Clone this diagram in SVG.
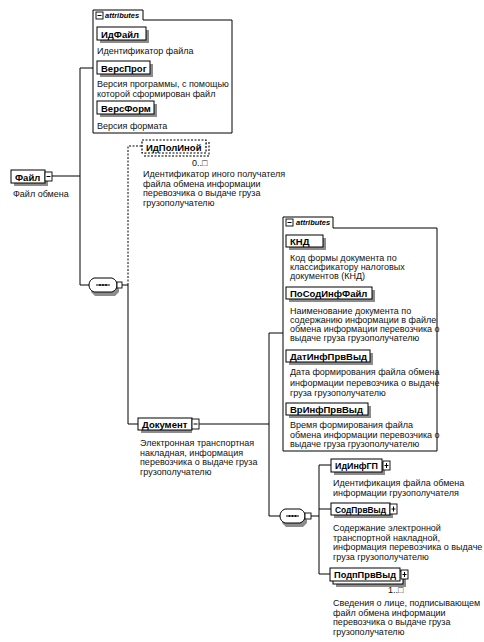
<svg xmlns="http://www.w3.org/2000/svg" width="484" height="642" viewBox="0 0 484 642">
<defs>
<style>
.bg{fill:#fff}
.c{fill:none;stroke:#000;stroke-width:1}
.dot{fill:none;stroke:#000;stroke-width:1;stroke-dasharray:2,1.5}
.box{fill:#fff;stroke:#000;stroke-width:1}
.sh{fill:#8c8c8c}
.dbox{fill:#fff;stroke:#000;stroke-width:1.2;stroke-dasharray:2,1.5}
.dsh{fill:none;stroke:#777;stroke-width:2;stroke-dasharray:2,1.5}
.ab{fill:#fff;stroke:#000;stroke-width:1}
.lbl{font-family:"Liberation Sans",Arial,sans-serif;font-size:9.5px;font-weight:bold;fill:#000}
.d{font-family:"Liberation Sans",Arial,sans-serif;font-size:9px;fill:#111}
.at{font-family:"Liberation Sans",Arial,sans-serif;font-size:7.5px;font-weight:bold;font-style:italic;fill:#000}
.ic{fill:#fff;stroke:#000;stroke-width:0.9}
</style>
</defs>
<rect class="bg" x="0" y="0" width="484" height="642"/>

<g id="connectors">
<path class="c" d="M52,176 H80 M80,68 V285 M80,68 H93 M80,285 H89"/>
<path class="c" d="M122,285 H128 V424 H138"/>
<path class="dot" d="M128,285 V146 H142"/>
<path class="c" d="M199,424 H269 M269,333 V516 M269,333 H283 M269,516 H280"/>
<path class="c" d="M311,516 H319 M319,465 V574 M319,465 H331 M319,509 H331 M319,574 H330"/>
</g>

<g id="attributes1">
<path class="ab" d="M93,133 V10 H143 V20 H232 V133 Z"/>
<rect class="ic" x="96" y="12" width="7" height="7"/>
<path class="c" d="M97.5,15.5 H101.5"/>
<text class="at" x="105" y="18">attributes</text>
</g>

<g id="ИдФайл">
<rect class="sh" x="100" y="30" width="49" height="13"/>
<rect class="box" x="97" y="27" width="49" height="13"/>
<text class="lbl" x="101" y="37.5">ИдФайл</text>
<text class="d" x="97" y="54">Идентификатор файла</text>
</g>

<g id="ВерсПрог">
<rect class="sh" x="100" y="64" width="53" height="13"/>
<rect class="box" x="97" y="61" width="53" height="13"/>
<text class="lbl" x="101" y="71.5">ВерсПрог</text>
<text class="d" x="97" y="87">Версия программы, с помощью</text>
<text class="d" x="97" y="97">которой сформирован файл</text>
</g>

<g id="ВерсФорм">
<rect class="sh" x="100" y="104" width="57" height="13"/>
<rect class="box" x="97" y="101" width="57" height="13"/>
<text class="lbl" x="101" y="111.5">ВерсФорм</text>
<text class="d" x="97" y="129">Версия формата</text>
</g>

<g id="Файл">
<rect class="sh" x="14" y="173" width="34" height="13"/>
<rect class="box" x="11" y="170" width="34" height="13"/>
<text class="lbl" x="15" y="180.5">Файл</text>
<rect class="ic" x="45" y="172" width="7" height="9"/>
<path class="c" d="M46.5,176.5 H50.5"/>
<text class="d" x="13" y="197">Файл обмена</text>
</g>

<g id="ИдПолИной">
<rect class="dsh" x="145" y="143" width="64" height="13"/>
<rect class="dbox" x="142" y="140" width="64" height="13"/>
<text class="lbl" x="146" y="150.5">ИдПолИной</text>
<text class="d" x="192" y="166" font-size="8">0..□</text>
<text class="d" x="143" y="177">Идентификатор иного получателя</text>
<text class="d" x="143" y="186.5">файла обмена информации</text>
<text class="d" x="143" y="196">перевозчика о выдаче груза</text>
<text class="d" x="143" y="205.5">грузополучателю</text>
</g>

<g id="seq1">
<path class="sh" d="M93,283 H113 L119,289 V292 L115,296 H95 L91,292 Z"/>
<path class="box" d="M94,278 H112 Q117,280 117,285 Q117,290 112,292 H94 Q89,290 89,285 Q89,280 94,278 Z"/>
<path class="c" d="M96,285 H110"/>
<circle cx="100" cy="285" r="0.9"/><circle cx="103" cy="285" r="0.9"/><circle cx="106" cy="285" r="0.9"/>
<rect class="ic" x="117" y="282" width="5" height="6"/>
</g>

<g id="Документ">
<rect class="sh" x="141" y="421" width="51" height="12"/>
<rect class="box" x="138" y="418" width="54" height="12"/>
<text class="lbl" x="142" y="427.5">Документ</text>
<rect class="ic" x="192" y="419" width="7" height="10"/>
<path class="c" d="M193.5,424 H197.5"/>
<text class="d" x="140" y="446">Электронная транспортная</text>
<text class="d" x="140" y="455.5">накладная, информация</text>
<text class="d" x="140" y="465">перевозчика о выдаче груза</text>
<text class="d" x="140" y="474.5">грузополучателю</text>
</g>

<g id="attributes2">
<path class="ab" d="M283,451 V217 H333 V228 H437 V451 Z"/>
<rect class="ic" x="286" y="219" width="7" height="7"/>
<path class="c" d="M287.5,222.5 H291.5"/>
<text class="at" x="296" y="225">attributes</text>
</g>

<g id="КНД">
<rect class="sh" x="289" y="238" width="37" height="12"/>
<rect class="box" x="286" y="235" width="37" height="12"/>
<text class="lbl" x="290" y="244.5">КНД</text>
<text class="d" x="290" y="261">Код формы документа по</text>
<text class="d" x="290" y="270">классификатору налоговых</text>
<text class="d" x="290" y="279">документов (КНД)</text>
</g>

<g id="ПоСодИнфФайл">
<rect class="sh" x="289" y="290" width="86" height="12"/>
<rect class="box" x="286" y="287" width="86" height="12"/>
<text class="lbl" x="290" y="296.5">ПоСодИнфФайл</text>
<text class="d" x="290" y="314">Наименование документа по</text>
<text class="d" x="290" y="323">содержанию информации в файле</text>
<text class="d" x="290" y="332">обмена информации перевозчика о</text>
<text class="d" x="290" y="341">выдаче груза грузополучателю</text>
</g>

<g id="ДатИнфПрвВыд">
<rect class="sh" x="289" y="353" width="84" height="12"/>
<rect class="box" x="286" y="350" width="84" height="12"/>
<text class="lbl" x="290" y="359.5">ДатИнфПрвВыд</text>
<text class="d" x="290" y="375">Дата формирования файла обмена</text>
<text class="d" x="290" y="385.5">информации перевозчика о выдаче</text>
<text class="d" x="290" y="396">груза грузополучателю</text>
</g>

<g id="ВрИнфПрвВыд">
<rect class="sh" x="289" y="406" width="82" height="12"/>
<rect class="box" x="286" y="403" width="82" height="12"/>
<text class="lbl" x="290" y="412.5">ВрИнфПрвВыд</text>
<text class="d" x="290" y="428">Время формирования файла</text>
<text class="d" x="290" y="437.5">обмена информации перевозчика о</text>
<text class="d" x="290" y="447">выдаче груза грузополучателю</text>
</g>

<g id="seq2">
<path class="sh" d="M284,514 H301 L307,520 V523 L303,527 H286 L282,523 Z"/>
<path class="box" d="M285,509 H300 Q305,511 305,516 Q305,521 300,523 H285 Q280,521 280,516 Q280,511 285,509 Z"/>
<path class="c" d="M286,516 H299"/>
<circle cx="289.5" cy="516" r="0.9"/><circle cx="292.5" cy="516" r="0.9"/><circle cx="295.5" cy="516" r="0.9"/>
<rect class="ic" x="305" y="513" width="6" height="6"/>
</g>

<g id="ИдИнфГП">
<rect class="sh" x="334" y="462" width="51" height="13"/>
<rect class="box" x="331" y="459" width="51" height="13"/>
<text class="lbl" x="335" y="469" textLength="43" lengthAdjust="spacingAndGlyphs">ИдИнфГП</text>
<rect class="ic" x="383" y="461" width="7" height="9"/>
<path class="c" d="M384.5,465.5 H388.5 M386.5,463 V468"/>
<text class="d" x="333" y="486">Идентификация файла обмена</text>
<text class="d" x="333" y="496">информации грузополучателя</text>
</g>

<g id="СодПрвВыд">
<rect class="sh" x="334" y="506" width="59" height="12"/>
<rect class="box" x="331" y="503" width="59" height="12"/>
<text class="lbl" x="335" y="512.5" textLength="51" lengthAdjust="spacingAndGlyphs">СодПрвВыд</text>
<rect class="ic" x="390" y="504" width="7" height="10"/>
<path class="c" d="M391.5,509 H395.5 M393.5,506.5 V511.5"/>
<text class="d" x="333" y="531">Содержание электронной</text>
<text class="d" x="333" y="540.5">транспортной накладной,</text>
<text class="d" x="333" y="550">информация перевозчика о выдаче</text>
<text class="d" x="333" y="559.5">груза грузополучателю</text>
</g>

<g id="ПодпПрвВыд">
<rect class="sh" x="336" y="574" width="70" height="13"/>
<rect class="box" x="333" y="571" width="70" height="13"/>
<rect class="box" x="330" y="568" width="70" height="13"/>
<text class="lbl" x="334" y="578" textLength="62" lengthAdjust="spacingAndGlyphs">ПодпПрвВыд</text>
<rect class="ic" x="401" y="570" width="7" height="9"/>
<path class="c" d="M402.5,574.5 H406.5 M404.5,572 V577"/>
<text class="d" x="388" y="593" font-size="8">1..□</text>
<text class="d" x="333" y="606">Сведения о лице, подписывающем</text>
<text class="d" x="333" y="615.5">файл обмена информации</text>
<text class="d" x="333" y="625">перевозчика о выдаче груза</text>
<text class="d" x="333" y="634.5">грузополучателю</text>
</g>
</svg>
